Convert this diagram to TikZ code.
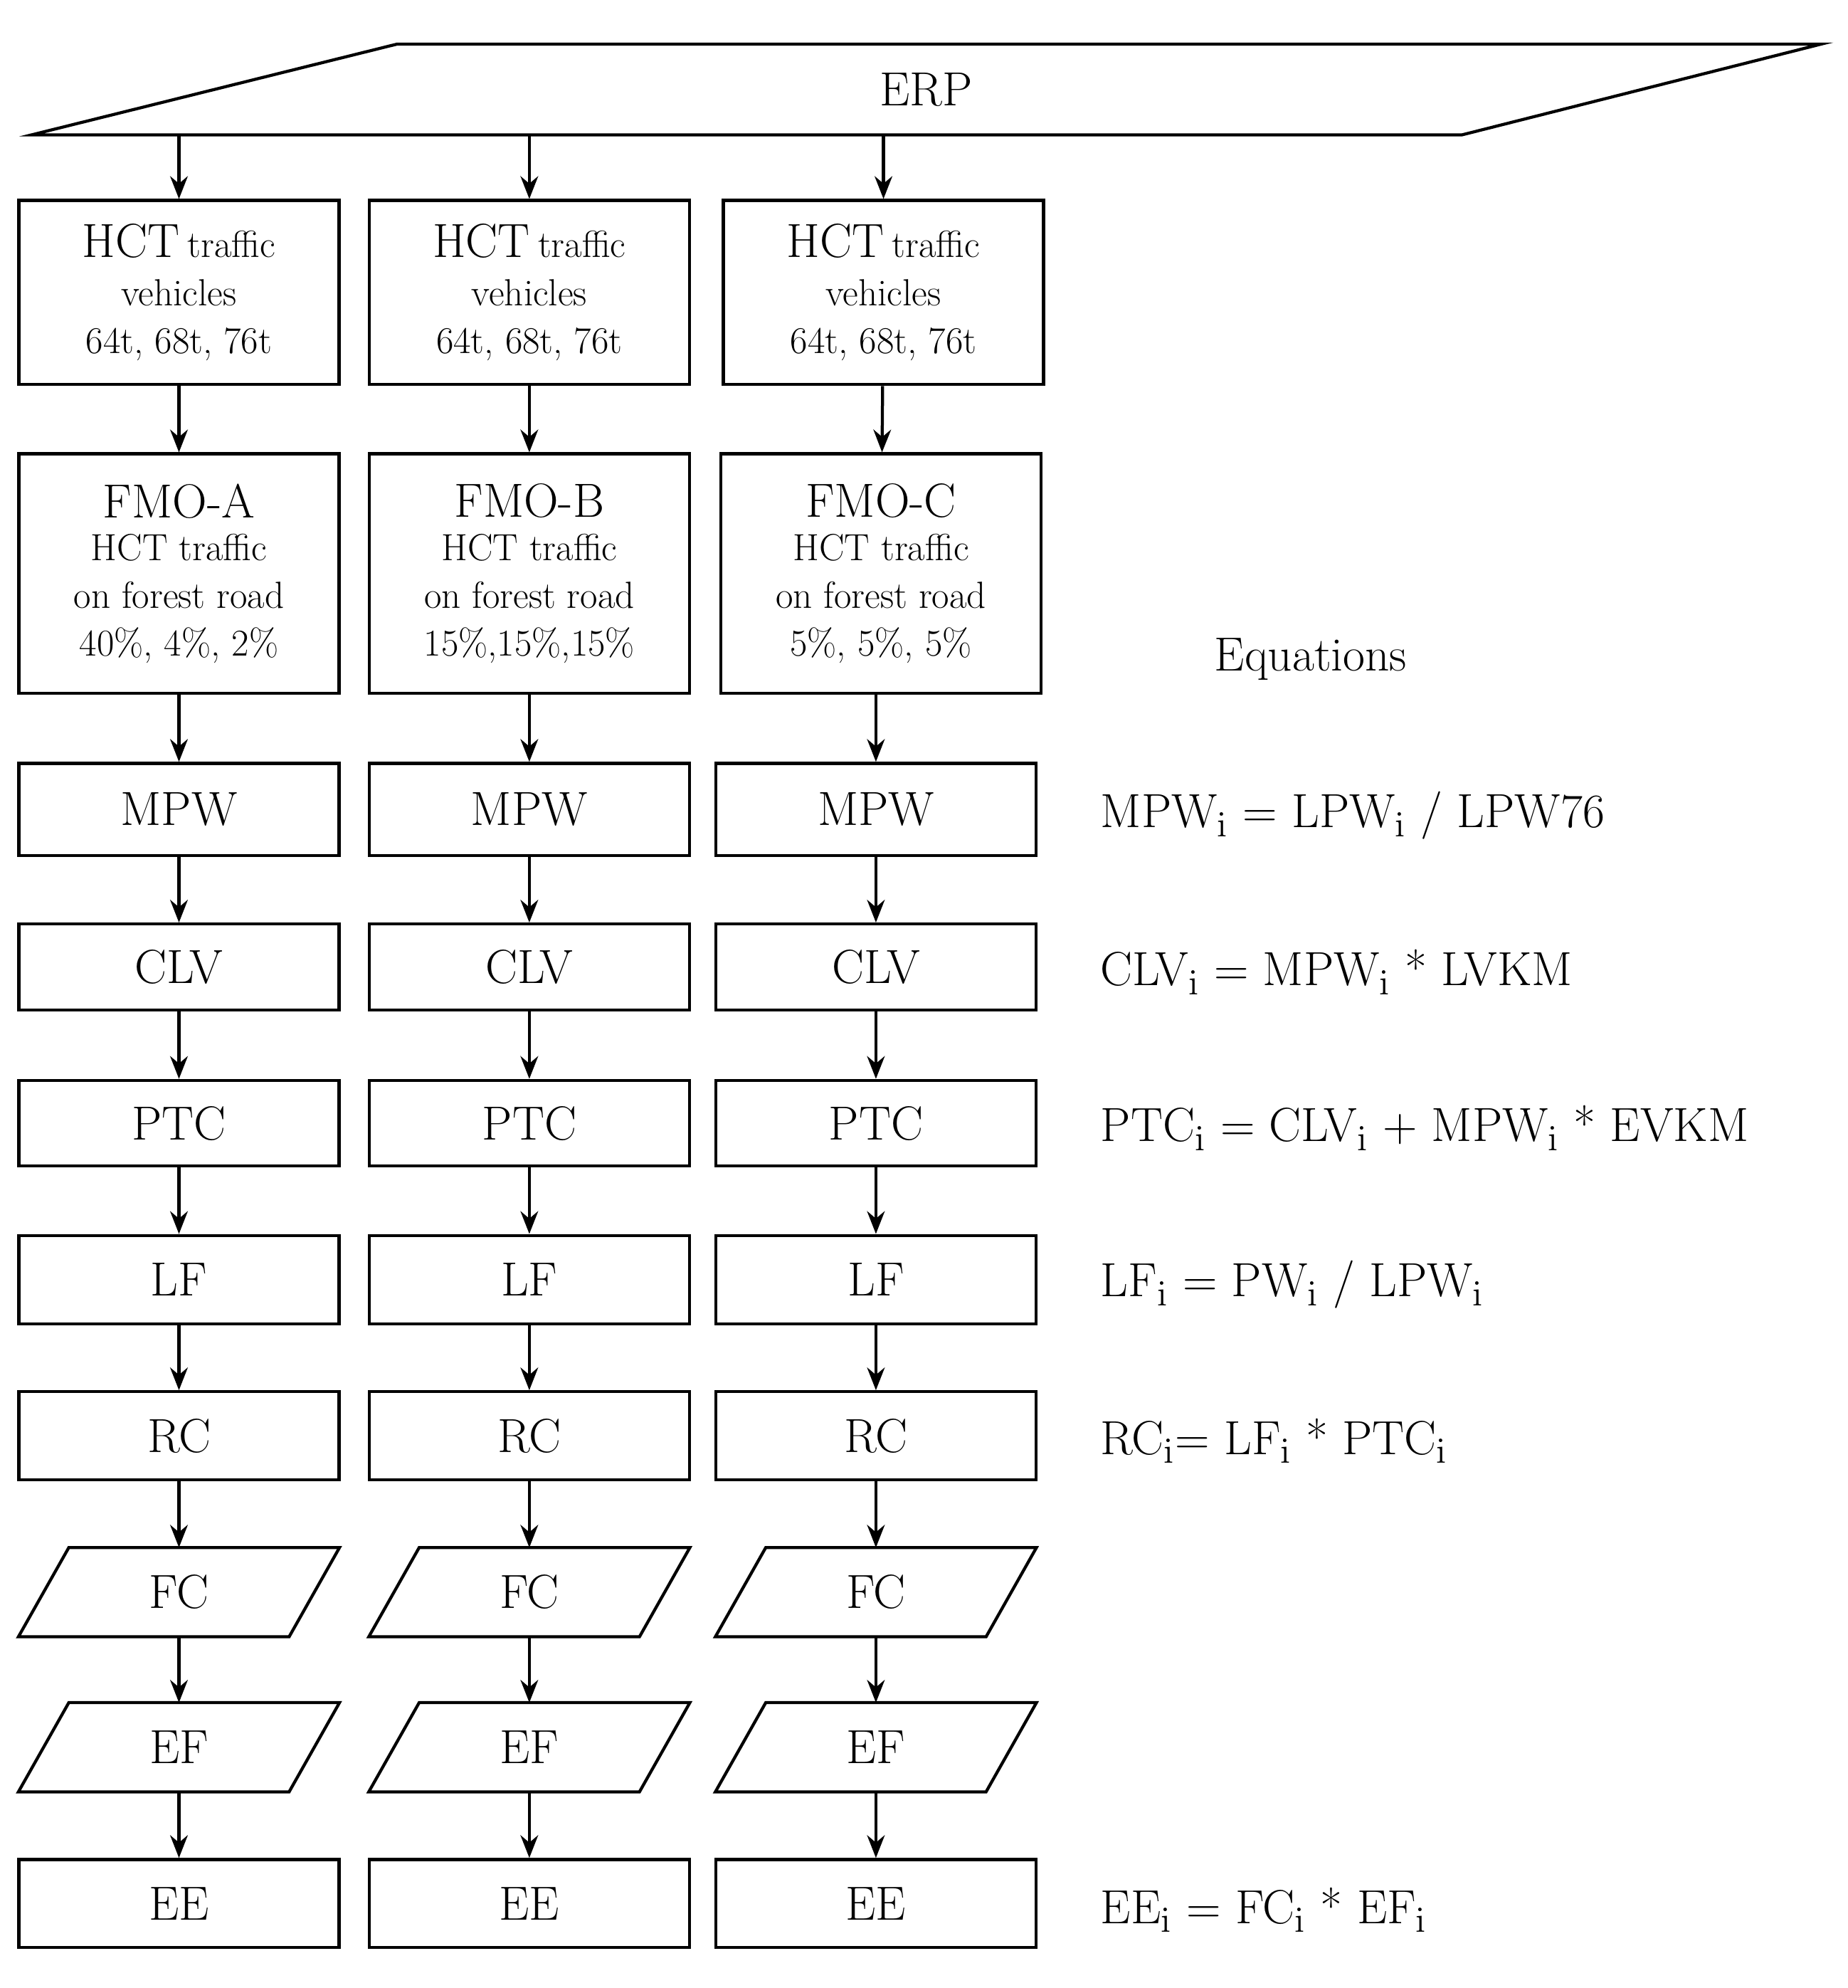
\documentclass[tikz,border=0pt]{standalone}
\usetikzlibrary{arrows.meta}
\begin{document}
\begin{tikzpicture}[x=0.5pt,y=-0.5pt,
  box/.style={draw,line width=1.2pt,minimum width=127pt,inner sep=0pt,align=center,font=\fontsize{19}{21}\selectfont},
  pbox/.style={draw=none,minimum width=127pt,minimum height=35pt,inner sep=0pt,font=\fontsize{19}{21}\selectfont},
  arr/.style={-{Stealth[length=9pt,width=7pt]},line width=1.2pt},
  eq/.style={anchor=west,inner sep=0pt,font=\fontsize{19}{21}\selectfont}]
\useasboundingbox (0,0) rectangle (1466,1577);
\node[draw=none,minimum width=565pt,minimum height=36pt,font=\fontsize{19}{21}\selectfont] (erp) at (735,71) {ERP};
\draw[line width=1.2pt] (315,35) -- (1445,35) -- (1160,107) -- (25,107) -- cycle;
\foreach \n/\xa/\xb/\xc/\pa in {A/142/142/142/{40\%, 4\%, 2\%},B/420/420/420/{15\%,15\%,15\%},C/701/699/695/{5\%, 5\%, 5\%}}{
  \node[box,minimum height=73pt] (hct\n) at (\xa,232) {HCT\,{\fontsize{15}{17}\selectfont traffic}\\[-2pt]{\fontsize{15}{19}\selectfont vehicles}\\[-2pt]{\fontsize{15}{19}\selectfont 64t, 68t, 76t}};
  \node[box,minimum height=95pt] (fmo\n) at (\xb,455) {FMO-\n\\[-4pt]{\fontsize{15}{19}\selectfont HCT traffic}\\[-2pt]{\fontsize{15}{19}\selectfont on forest road}\\[-2pt]{\fontsize{15}{19}\selectfont \pa}};
  \node[box,minimum height=36.5pt] (mpw\n) at (\xc,642) {MPW};
  \node[box,minimum height=34pt] (clv\n) at (\xc,767) {CLV};
  \node[box,minimum height=34pt] (ptc\n) at (\xc,891) {PTC};
  \node[box,minimum height=35pt] (lf\n) at (\xc,1015) {LF};
  \node[box,minimum height=35pt] (rc\n) at (\xc,1139) {RC};
  \node[pbox] (fc\n) at (\xc,1263) {FC};
  \node[pbox] (ef\n) at (\xc,1386) {EF};
  \node[box,minimum height=35pt] (ee\n) at (\xc,1510) {EE};
  \foreach \p in {fc\n,ef\n}{
    \draw[line width=1.2pt] ([xshift=20pt]\p.north west) -- (\p.north east) -- ([xshift=-20pt]\p.south east) -- (\p.south west) -- cycle;}
  \draw[arr] (erp.south -| hct\n.north) -- (hct\n.north);
  \draw[arr] (hct\n) -- (fmo\n);
  \draw[arr] (fmo\n.south -| mpw\n) -- (mpw\n);
  \draw[arr] (mpw\n) -- (clv\n);
  \draw[arr] (clv\n) -- (ptc\n);
  \draw[arr] (ptc\n) -- (lf\n);
  \draw[arr] (lf\n) -- (rc\n);
  \draw[arr] (rc\n) -- (fc\n);
  \draw[arr] (fc\n) -- (ef\n);
  \draw[arr] (ef\n) -- (ee\n);
}
\node[inner sep=0pt,font=\fontsize{19}{21}\selectfont] (eqt) at (1040,523) {Equations};
\node[eq] (e1) at (873,647) {MPW$_\mathrm{i}$ = LPW$_\mathrm{i}$ / LPW76};
\node[eq] (e2) at (873,771) {CLV$_\mathrm{i}$ = MPW$_\mathrm{i}$ * LVKM};
\node[eq] (e3) at (873,895) {PTC$_\mathrm{i}$ = CLV$_\mathrm{i}$ + MPW$_\mathrm{i}$ * EVKM};
\node[eq] (e4) at (873,1019) {LF$_\mathrm{i}$ = PW$_\mathrm{i}$ / LPW$_\mathrm{i}$};
\node[eq] (e5) at (873,1143) {RC$_\mathrm{i}$= LF$_\mathrm{i}$ * PTC$_\mathrm{i}$};
\node[eq] (e6) at (873,1515) {EE$_\mathrm{i}$ = FC$_\mathrm{i}$ * EF$_\mathrm{i}$};
\end{tikzpicture}
\end{document}
